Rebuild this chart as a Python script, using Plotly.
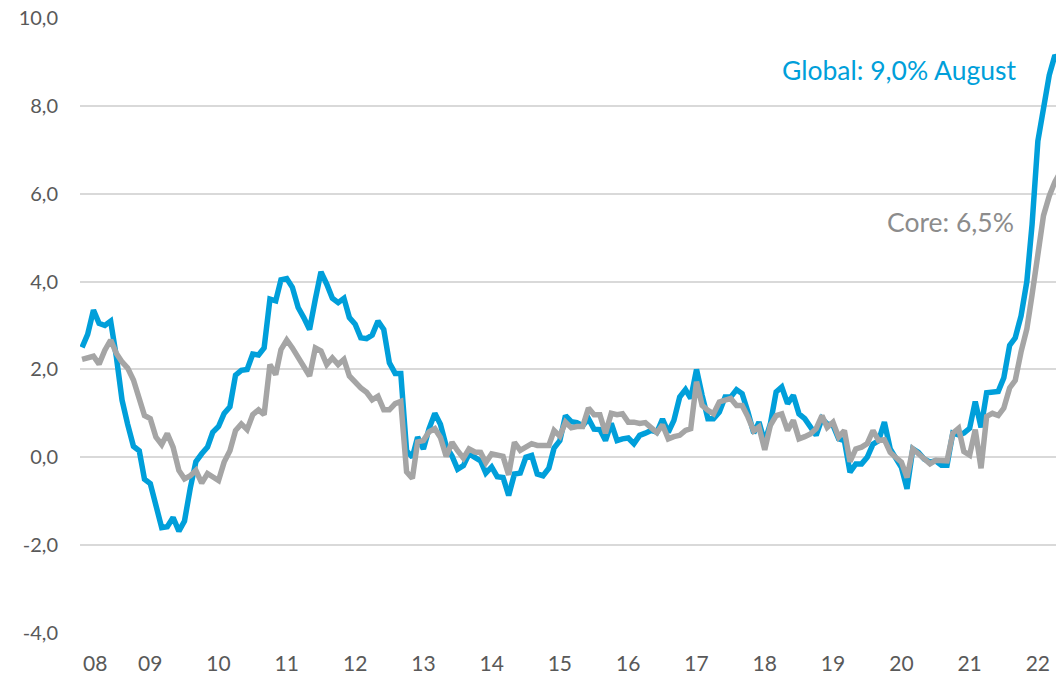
import pandas as pd
import plotly.graph_objects as go

# Monthly data, April 2008 - August 2022
months = pd.date_range("2008-04-01", "2022-08-01", freq="MS")

global_cpi = [
    2.5, 2.8, 3.35, 3.05, 3.0, 3.1, 2.3, 1.3, 0.75, 0.25, 0.15, -0.5,
    -0.6, -1.15, -1.6, -1.58, -1.37, -1.68, -1.45, -0.7, -0.1, 0.08, 0.23, 0.57,
    0.7, 1.0, 1.15, 1.87, 1.98, 2.0, 2.35, 2.33, 2.49, 3.6, 3.56, 4.04,
    4.07, 3.87, 3.41, 3.18, 2.91, 3.6, 4.22, 3.94, 3.62, 3.52, 3.62, 3.18,
    3.03, 2.72, 2.70, 2.78, 3.10, 2.91, 2.15, 1.91, 1.91, 0.15, 0.0, 0.46,
    0.19, 0.65, 1.0, 0.75, 0.25, 0.03, -0.27, -0.19, 0.08, 0.0, -0.08, -0.36,
    -0.22, -0.44, -0.46, -0.87, -0.38, -0.36, 0.0, 0.04, -0.38, -0.42, -0.25, 0.21,
    0.38, 0.95, 0.81, 0.79, 0.72, 0.88, 0.64, 0.63, 0.38, 0.77, 0.38, 0.42,
    0.44, 0.31, 0.50, 0.55, 0.61, 0.57, 0.87, 0.57, 0.84, 1.37, 1.54, 1.34,
    2.0, 1.41, 0.88, 0.88, 1.03, 1.37, 1.37, 1.54, 1.45, 1.03, 0.55, 0.80,
    0.35, 0.76, 1.49, 1.60, 1.22, 1.41, 0.99, 0.88, 0.69, 0.50, 0.88, 0.76,
    0.73, 0.42, 0.38, -0.34, -0.15, -0.15, 0.0, 0.30, 0.38, 0.80, 0.19, 0.0,
    -0.23, -0.72, 0.19, 0.11, -0.04, -0.11, -0.08, -0.18, -0.18, 0.55, 0.51, 0.55,
    0.66, 1.27, 0.68, 1.47, 1.50, 1.50, 1.81, 2.55, 2.72, 3.22, 4.0, 5.3,
    7.2, 8.0, 8.7, 9.15, 9.0,
]

core_cpi = [
    2.23, 2.26, 2.30, 2.12, 2.44, 2.67, 2.37, 2.17, 2.03, 1.76, 1.37, 0.95,
    0.88, 0.46, 0.29, 0.54, 0.23, -0.30, -0.49, -0.42, -0.30, -0.59, -0.37, -0.46,
    -0.53, -0.11, 0.15, 0.61, 0.76, 0.63, 0.97, 1.08, 0.97, 2.11, 1.88, 2.45,
    2.67, 2.49, 2.26, 2.07, 1.85, 2.49, 2.42, 2.11, 2.26, 2.11, 2.23, 1.85,
    1.69, 1.58, 1.48, 1.31, 1.39, 1.08, 1.08, 1.22, 1.27, -0.33, -0.48, 0.35,
    0.38, 0.58, 0.65, 0.45, 0.02, 0.34, 0.15, -0.02, 0.19, 0.12, 0.11, -0.12,
    0.08, 0.04, 0.02, -0.40, 0.34, 0.16, 0.22, 0.31, 0.27, 0.27, 0.27, 0.61,
    0.48, 0.80, 0.67, 0.70, 0.70, 1.12, 0.97, 0.97, 0.55, 1.0, 0.97, 0.99,
    0.80, 0.80, 0.77, 0.79, 0.68, 0.56, 0.74, 0.42, 0.47, 0.50, 0.61, 0.65,
    1.72, 1.18, 1.07, 0.99, 1.26, 1.30, 1.34, 1.18, 1.18, 0.92, 0.60, 0.69,
    0.17, 0.73, 0.95, 0.99, 0.61, 0.84, 0.42, 0.47, 0.53, 0.65, 0.95, 0.68,
    0.80, 0.46, 0.61, -0.10, 0.19, 0.23, 0.31, 0.61, 0.38, 0.40, 0.11, 0.0,
    -0.11, -0.46, 0.19, 0.08, -0.04, -0.15, -0.07, -0.06, -0.08, 0.55, 0.66, 0.13,
    0.05, 0.63, -0.25, 0.93, 1.0, 0.95, 1.12, 1.58, 1.75, 2.4, 2.92, 3.7,
    4.6, 5.5, 5.95, 6.27, 6.5,
]

year_ticks = ["2008-06-10", "2009-04-01", "2010-04-01", "2011-04-01", "2012-04-01",
              "2013-04-01", "2014-04-01", "2015-04-01", "2016-04-01", "2017-04-01",
              "2018-04-01", "2019-04-01", "2020-04-01", "2021-04-01", "2022-04-01"]
year_labels = ["08", "09", "10", "11", "12", "13", "14", "15", "16", "17",
               "18", "19", "20", "21", "22"]
y_ticks = [-4, -2, 0, 2, 4, 6, 8, 10]
y_labels = [f"{v:.1f}".replace(".", ",") for v in y_ticks]

BLUE = "#009FDA"
GREY = "#A5A5A5"
FONT = "Lato, 'Open Sans', sans-serif"

fig = go.Figure()
fig.add_trace(go.Scatter(x=months, y=global_cpi, mode="lines", name="Global",
                         line=dict(color=BLUE, width=5.5)))
fig.add_trace(go.Scatter(x=months, y=core_cpi, mode="lines", name="Core",
                         line=dict(color=GREY, width=5.5)))

fig.add_annotation(text="Global: 9,0% August", xref="paper", yref="y",
                   x=0.961, y=8.82, xanchor="right", yanchor="middle",
                   showarrow=False, font=dict(family=FONT, size=26.5, color=BLUE))
fig.add_annotation(text="Core: 6,5%", xref="paper", yref="y",
                   x=0.959, y=5.35, xanchor="right", yanchor="middle",
                   showarrow=False, font=dict(family=FONT, size=26.5, color="#8C8C8C"))

fig.update_layout(
    width=1056, height=675,
    margin=dict(l=80, r=0, t=18, b=39),
    paper_bgcolor="white", plot_bgcolor="white",
    showlegend=False,
    font=dict(family=FONT, size=20, color="#595959"),
    xaxis=dict(range=["2008-03-21", "2022-07-07"], tickvals=year_ticks,
               ticktext=year_labels, showgrid=False, zeroline=False,
               showline=False, ticks="", ticklabelstandoff=16,
               tickfont=dict(size=21, color="#595959")),
    yaxis=dict(range=[-4, 10], tickvals=y_ticks, ticktext=y_labels,
               showgrid=True, gridcolor="#D9D9D9", gridwidth=2,
               zeroline=False, showline=False, ticks="", ticklabelstandoff=21,
               tickfont=dict(size=20, color="#595959")),
)

fig.write_html("out.html",
               config={"displayModeBar": False},
               post_script="document.body.style.margin='0';document.body.style.overflow='hidden';")
